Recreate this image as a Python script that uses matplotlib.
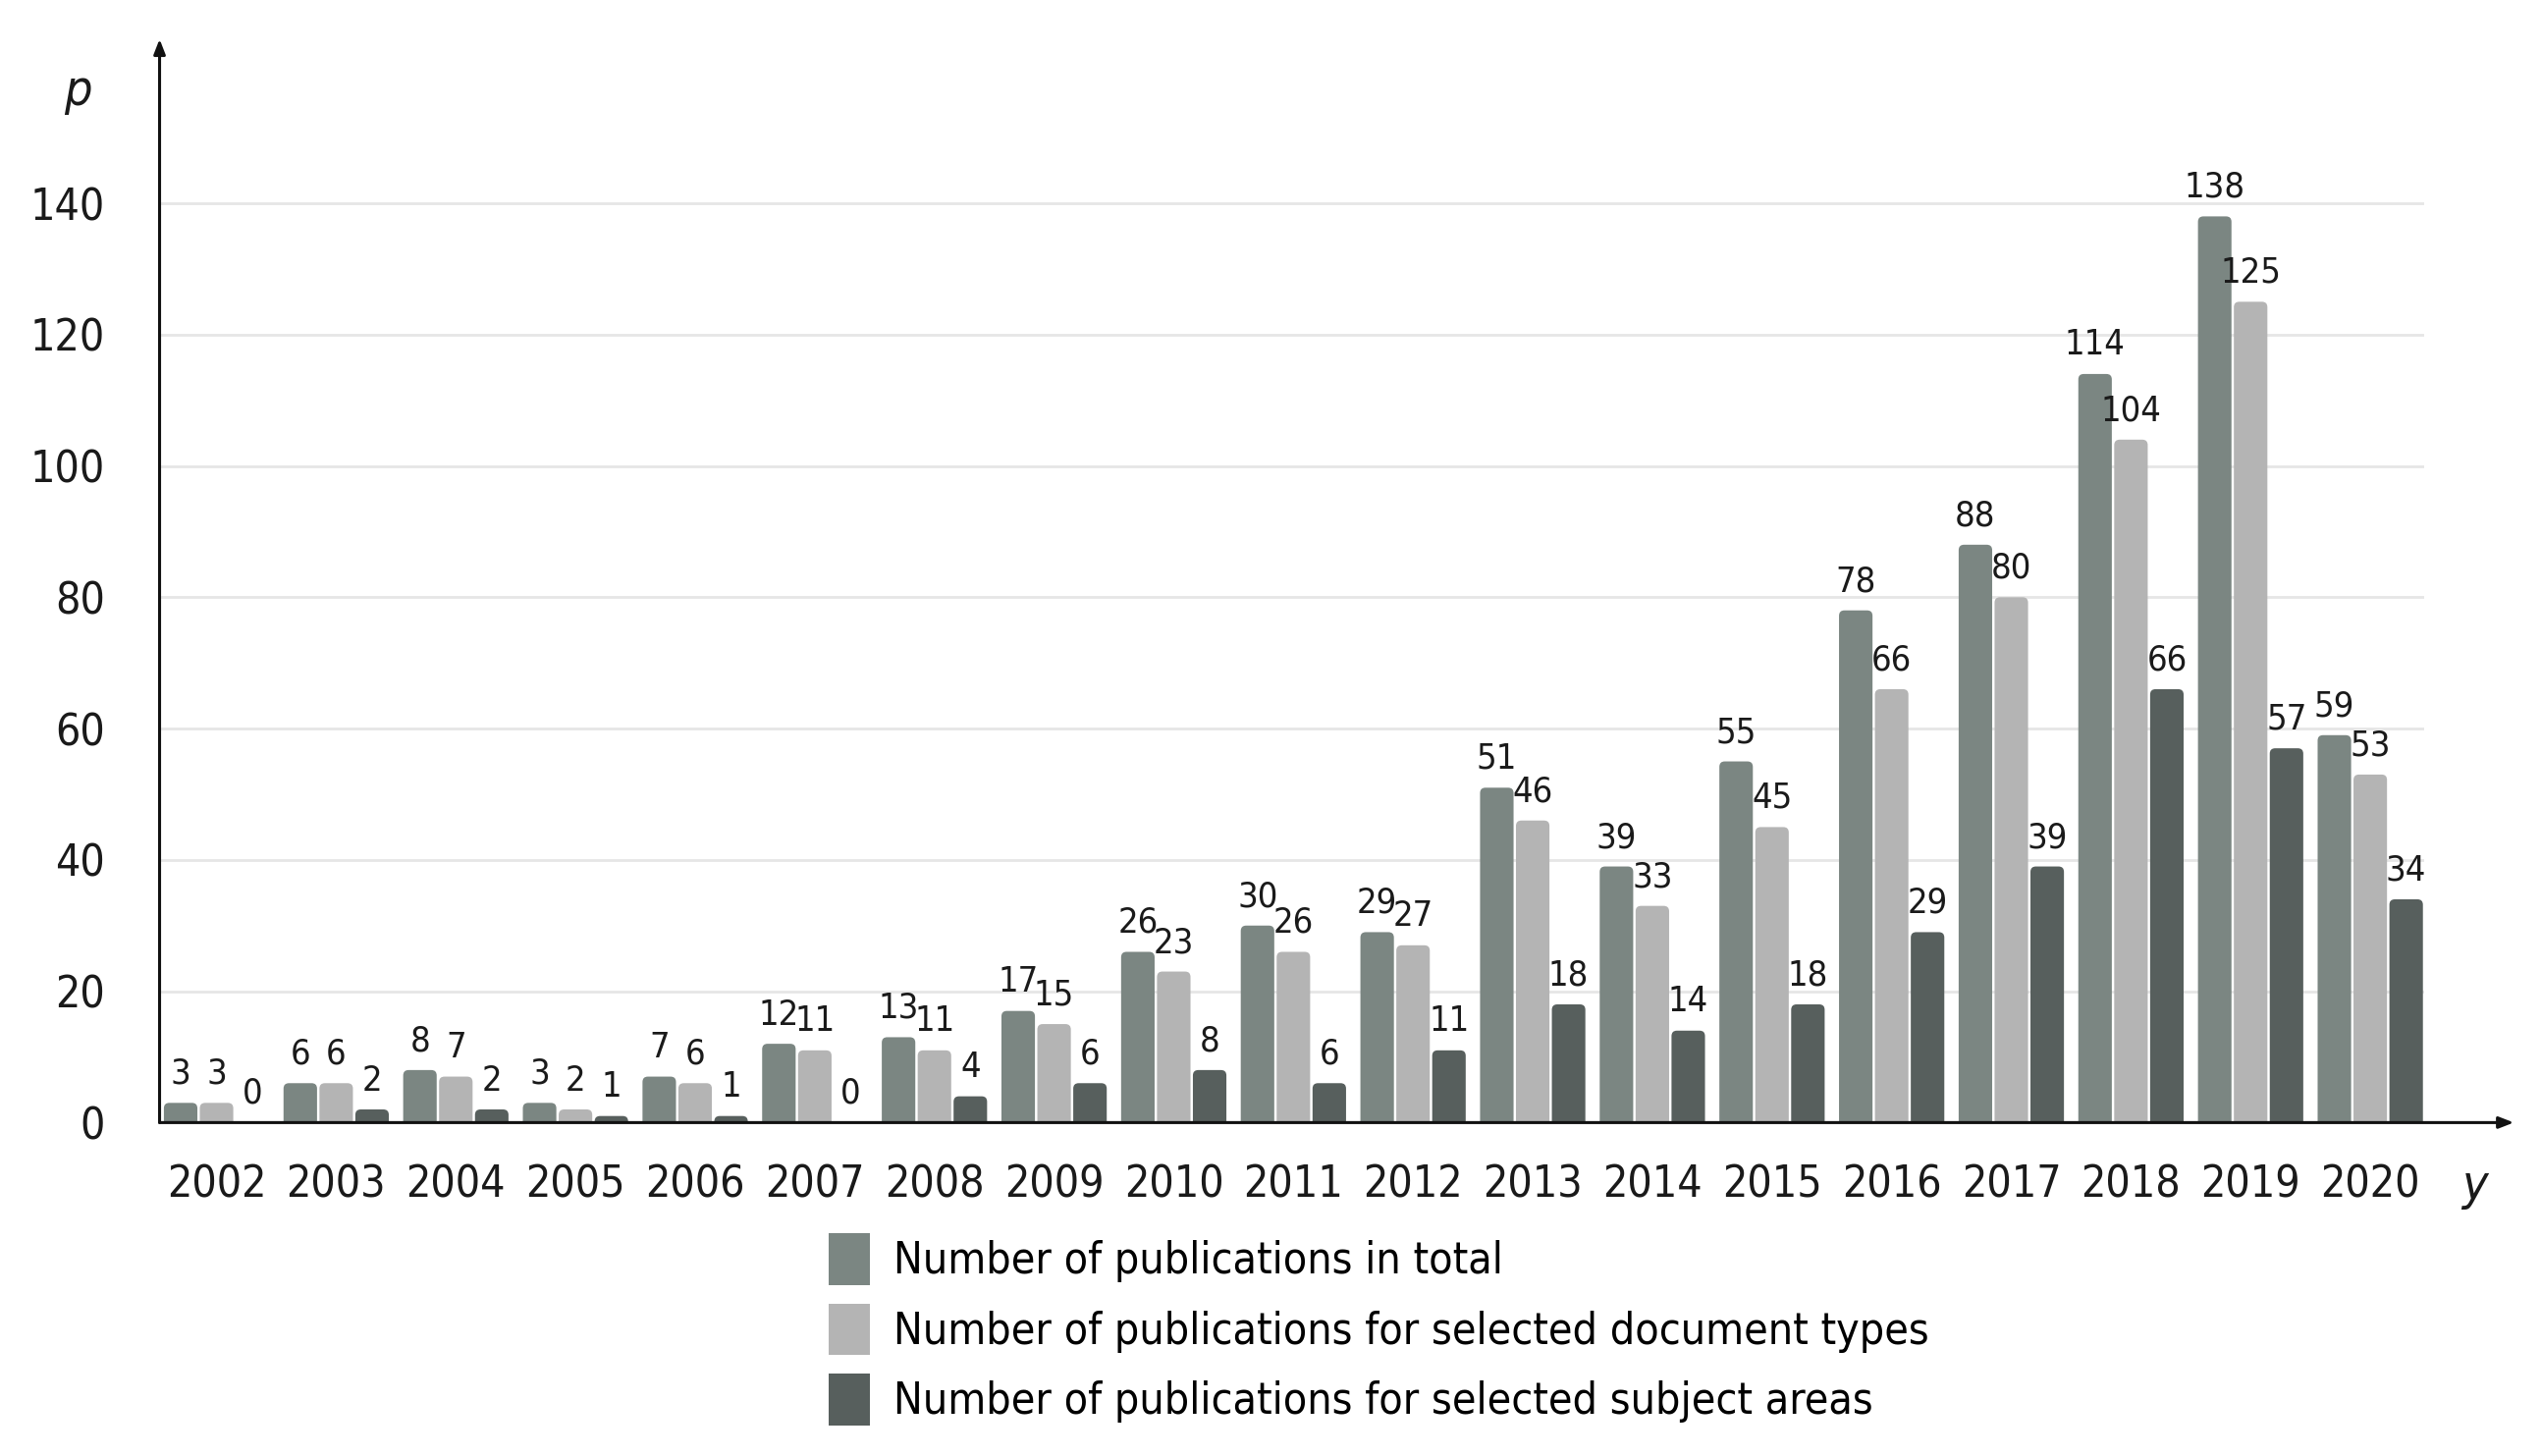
import numpy as np
import matplotlib
matplotlib.use("Agg")
import matplotlib.pyplot as plt
from matplotlib.patches import Patch, FancyBboxPatch

plt.rcParams['font.family'] = ['DejaVu Sans']
plt.rcParams['font.stretch'] = 'condensed'

# data
years = [str(y) for y in range(2002, 2021)]
total = [3, 6, 8, 3, 7, 12, 13, 17, 26, 30, 29, 51, 39, 55, 78, 88, 114, 138, 59]
doc_types = [3, 6, 7, 2, 6, 11, 11, 15, 23, 26, 27, 46, 33, 45, 66, 80, 104, 125, 53]
subj_areas = [0, 2, 2, 1, 1, 0, 4, 6, 8, 6, 11, 18, 14, 18, 29, 39, 66, 57, 34]
series_names = ["Number of publications in total",
                "Number of publications for selected document types",
                "Number of publications for selected subject areas"]
colors = ["#7b8682", "#b4b4b4", "#575f5d"]
yticks = [0, 20, 40, 60, 80, 100, 120, 140]

fig = plt.figure(figsize=(25.88, 14.83), dpi=100)
ax = fig.add_axes([0.0628, 0.229, 0.954 - 0.0628, 0.9055 - 0.229])

xmin, xmax, ymax = -0.476, 18.45, 150
ax.set_xlim(xmin, xmax)
ax.set_ylim(0, ymax)

# pixel aspect so the rounded tops look round
bb = ax.get_window_extent()
aspect = (bb.width / (xmax - xmin)) / (bb.height / ymax)

x = np.arange(len(years))
w = 0.28
offs = [-0.3, 0.0, 0.3]
for vals, off, c in zip([total, doc_types, subj_areas], offs, colors):
    bars = ax.bar(x + off, vals, width=w, color=c, alpha=0)
    for r in bars:
        h = r.get_height()
        if h <= 0:
            continue
        ax.add_patch(FancyBboxPatch((r.get_x(), -3), r.get_width(), h + 3,
                                    boxstyle="round,pad=0,rounding_size=0.045",
                                    mutation_aspect=aspect, facecolor=c,
                                    edgecolor='none', zorder=3))
    ax.bar_label(bars, labels=[str(v) for v in vals], padding=9,
                 fontsize=26, color="#1a1a1a")

ax.set_yticks(yticks)
ax.set_xticks(x)
ax.set_xticklabels(years)
ax.tick_params(axis='both', length=0, labelsize=32, colors="#1a1a1a")
ax.tick_params(axis='x', pad=30)
ax.tick_params(axis='y', pad=40)
ax.yaxis.grid(True, color="#e6e6e6", linewidth=2, zorder=0)
ax.yaxis.get_gridlines()[0].set_visible(False)
for s in ax.spines.values():
    s.set_visible(False)

# axis arrows
ax.annotate("", xy=(xmin, 165), xytext=(xmin, 0), xycoords='data',
            annotation_clip=False,
            arrowprops=dict(arrowstyle="-|>,head_length=0.9,head_width=0.35",
                            color="#111111", lw=2.2, shrinkA=0, shrinkB=0))
ax.annotate("", xy=(19.2, 0), xytext=(xmin, 0), xycoords='data',
            annotation_clip=False,
            arrowprops=dict(arrowstyle="-|>,head_length=0.9,head_width=0.35",
                            color="#111111", lw=2.2, shrinkA=0, shrinkB=0),
            zorder=5)
ax.text(-1.16, 157, "p", fontsize=36, style='italic', ha='center', va='center',
        color="#1a1a1a", clip_on=False)
ax.text(18.87, -9.6, "y", fontsize=36, style='italic', ha='center', va='center',
        color="#1a1a1a", clip_on=False)

handles = [Patch(facecolor=c) for c in colors]
fig.legend(handles, series_names, loc='upper left', bbox_to_anchor=(0.326, 0.153),
           frameon=False, fontsize=32, handlelength=0.95, handleheight=1.45,
           handletextpad=0.55, labelspacing=0.42, borderpad=0, borderaxespad=0)

fig.savefig("out.png", dpi=100, facecolor="white")
